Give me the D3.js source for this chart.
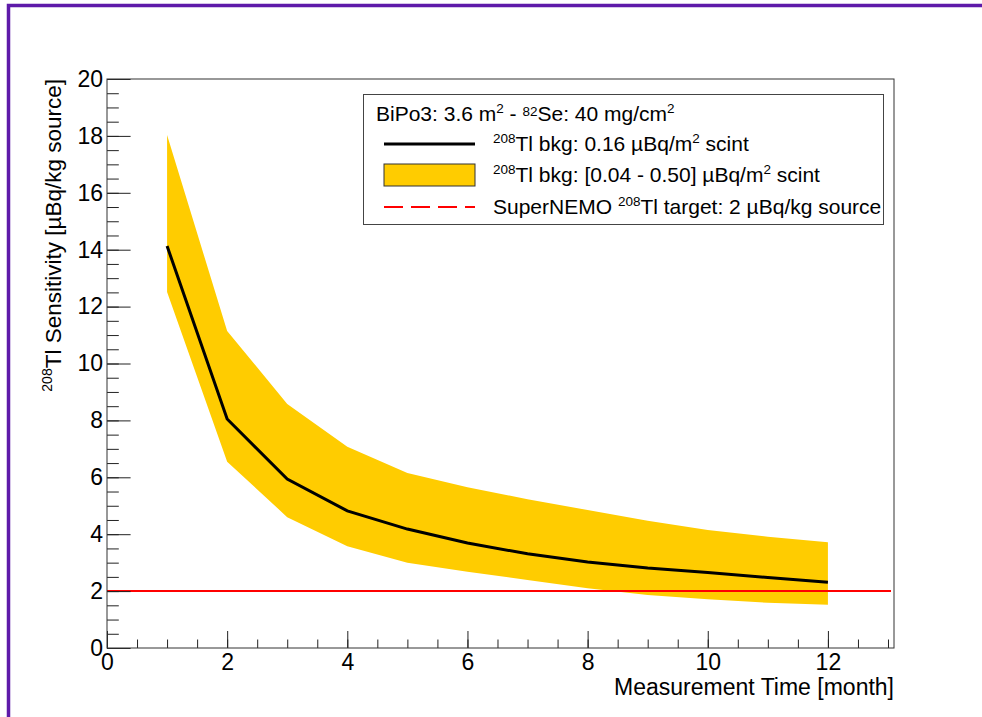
<!DOCTYPE html>
<html>
<head>
<meta charset="utf-8">
<script src="https://cdn.jsdelivr.net/npm/d3@7"></script>
<style>
  body { margin: 0; background: #fff; }
  text { font-family: "Liberation Sans", Arial, Helvetica, sans-serif; }
</style>
</head>
<body>
<script>
// values
var months = [1, 2, 3, 4, 5, 6, 7, 8, 9, 10, 11, 12];
var central = [14.13, 8.05, 5.94, 4.82, 4.18, 3.69, 3.31, 3.02, 2.81, 2.65, 2.48, 2.31];
var upper = [18.03, 11.14, 8.58, 7.07, 6.15, 5.65, 5.23, 4.85, 4.47, 4.15, 3.91, 3.72];
var lower = [12.51, 6.55, 4.60, 3.58, 3.00, 2.68, 2.39, 2.10, 1.86, 1.71, 1.59, 1.52];
var target = 2;
var xMajor = [0, 2, 4, 6, 8, 10, 12];
var yMajor = [0, 2, 4, 6, 8, 10, 12, 14, 16, 18, 20];

var W = 982, H = 717;
var svg = d3.select("body").append("svg")
    .attr("width", W)
    .attr("height", H);

var padL = 107, padR = 894, padT = 79, padB = 648;

var x = d3.scaleLinear().domain([0, 13.1]).range([padL, padR]);
var y = d3.scaleLinear().domain([0, 20]).range([padB, padT]);

// purple page border
svg.append("rect")
    .attr("x", 8.5).attr("y", 5.5)
    .attr("width", W + 20).attr("height", H + 20)
    .attr("fill", "none")
    .attr("stroke", "#5e1aa9")
    .attr("stroke-width", 3.5);

// yellow band
var rows = months.map(function(m, i) { return { m: m, c: central[i], lo: lower[i], hi: upper[i] }; });

svg.append("path")
    .datum(rows)
    .attr("fill", "#ffcc00")
    .attr("d", d3.area()
        .x(function(d) { return x(d.m); })
        .y0(function(d) { return y(d.lo); })
        .y1(function(d) { return y(d.hi); }));

// target line
svg.append("line")
    .attr("x1", x(0)).attr("x2", x(13.05))
    .attr("y1", y(target)).attr("y2", y(target))
    .attr("stroke", "#ff0000")
    .attr("stroke-width", 2);

// central curve
svg.append("path")
    .datum(rows)
    .attr("fill", "none")
    .attr("stroke", "#000")
    .attr("stroke-width", 3)
    .attr("d", d3.line()
        .x(function(d) { return x(d.m); })
        .y(function(d) { return y(d.c); }));

// axes, ticks pointing inward
var xMinorTicks = d3.range(0, 13.01, 0.5);
var yMinorTicks = d3.range(0, 20.01, 0.5);

var gx = svg.append("g").attr("transform", "translate(0," + padB + ")");
gx.call(d3.axisBottom(x).tickValues(xMinorTicks).tickSize(-8.5).tickFormat(""));
gx.append("g").call(d3.axisBottom(x).tickValues(xMajor).tickSize(-17).tickPadding(6).tickFormat(d3.format("d")));

var gy = svg.append("g").attr("transform", "translate(" + padL + ",0)");
gy.call(d3.axisLeft(y).tickValues(yMinorTicks).tickSize(-11.8).tickFormat(""));
gy.append("g").call(d3.axisLeft(y).tickValues(yMajor).tickSize(-23.6).tickPadding(4).tickFormat(d3.format("d")));

svg.selectAll(".domain").remove();
svg.selectAll(".tick line").attr("stroke", "#222").attr("stroke-width", 1);
svg.selectAll(".tick text").attr("font-size", 23).attr("fill", "#000")
    .style("font-family", "'Liberation Sans', Arial, sans-serif");

// frame
svg.append("rect")
    .attr("x", padL).attr("y", padT)
    .attr("width", padR - padL).attr("height", padB - padT)
    .attr("fill", "none")
    .attr("stroke", "#333")
    .attr("stroke-width", 1);

// axis titles
svg.append("text")
    .attr("x", padR).attr("y", 695)
    .attr("text-anchor", "end")
    .attr("font-size", 23)
    .text("Measurement Time [month]");

var yt = svg.append("text")
    .attr("transform", "translate(61," + padT + ") rotate(-90)")
    .attr("text-anchor", "end")
    .attr("font-size", 22.5);
yt.append("tspan").attr("font-size", 14).attr("dy", -9).text("208");
yt.append("tspan").attr("dy", 9).text("Tl Sensitivity [\u00b5Bq/kg source]");

// legend
var lg = svg.append("g");
lg.append("rect")
    .attr("x", 363.5).attr("y", 94.5)
    .attr("width", 520).attr("height", 130)
    .attr("fill", "#fff")
    .attr("stroke", "#444")
    .attr("stroke-width", 1);

var hdr = lg.append("text").attr("x", 376).attr("y", 121).attr("font-size", 21);
hdr.append("tspan").text("BiPo3: 3.6 m");
hdr.append("tspan").attr("font-size", 13.5).attr("dy", -8).text("2");
hdr.append("tspan").attr("dy", 8).text(" - ");
hdr.append("tspan").attr("font-size", 13.5).attr("dy", -5).text("82");
hdr.append("tspan").attr("dy", 5).text("Se: 40 mg/cm");
hdr.append("tspan").attr("font-size", 13.5).attr("dy", -8).text("2");

lg.append("line")
    .attr("x1", 384).attr("x2", 475)
    .attr("y1", 144).attr("y2", 144)
    .attr("stroke", "#000").attr("stroke-width", 3);

lg.append("rect")
    .attr("x", 384).attr("y", 164)
    .attr("width", 91).attr("height", 22)
    .attr("fill", "#ffcc00")
    .attr("stroke", "#333").attr("stroke-width", 1);

lg.append("line")
    .attr("x1", 384).attr("x2", 475)
    .attr("y1", 207).attr("y2", 207)
    .attr("stroke", "#ff0000").attr("stroke-width", 2)
    .attr("stroke-dasharray", "19,8");

function entry(yy, pre, mid, post) {
    var t = lg.append("text").attr("x", 493).attr("y", yy).attr("font-size", 21);
    if (pre) t.append("tspan").text(pre);
    t.append("tspan").attr("font-size", 13.5).attr("dy", -8).text("208");
    t.append("tspan").attr("dy", 8).text(mid);
    if (post) {
        t.append("tspan").attr("font-size", 13.5).attr("dy", -8).text("2");
        t.append("tspan").attr("dy", 8).text(post);
    }
}
entry(151, null, "Tl bkg: 0.16 \u00b5Bq/m", " scint");
entry(182, null, "Tl bkg: [0.04 - 0.50] \u00b5Bq/m", " scint");
entry(214, "SuperNEMO ", "Tl target: 2 \u00b5Bq/kg source", null);
</script>
</body>
</html>
